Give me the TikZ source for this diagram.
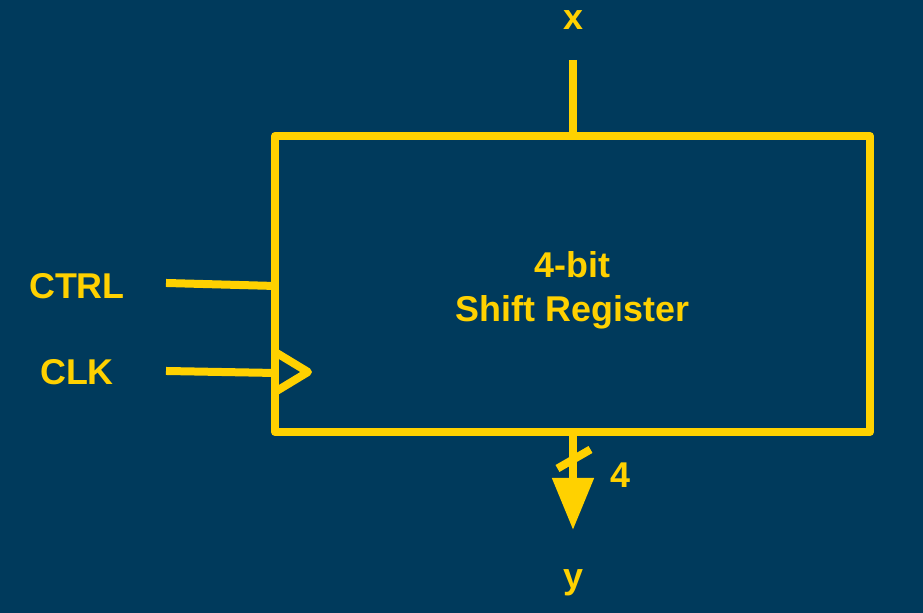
\documentclass[tikz,border=0pt]{standalone}
\usepackage{fontspec}
\setmainfont{Liberation Sans}
\usetikzlibrary{arrows.meta, positioning}
\definecolor{bgblue}{HTML}{003A5C}
\definecolor{sigyellow}{HTML}{FFD100}
\tikzset{>={Triangle[length=5.2mm, width=4mm]}}
\tikzset{
  wire/.style={sigyellow, line width=0.8mm},
  sig/.style={text=sigyellow, inner sep=0pt, font=\bfseries\fontsize{10.2}{12.6}\selectfont}
}

\begin{document}
\begin{tikzpicture}

% Background
\fill[bgblue] (0,0) rectangle (9.23,6.13);
\useasboundingbox (0,0) rectangle (9.23,6.13);

% Register block
\node[draw=sigyellow, line width=0.8mm, line join=round, minimum width=5.95cm, minimum height=2.96cm] (reg) at (5.725,3.29) {};
\node[sig, align=center] (title) at ([yshift=-0.06cm]reg.center) {4-bit\\Shift Register};

% Input x
\node[sig] (xlbl) at (5.73,5.93) {x};
\coordinate (xin) at (5.73,5.53);
\draw[wire] (xin) -- (xin |- reg.north);

% Control and clock inputs
\node[sig] (ctrl) at (0.77,3.27) {CTRL};
\coordinate (ctrlin) at (1.66,3.30);
\coordinate (ctrlend) at (2.75,3.27);
\draw[wire] (ctrlin) -- (ctrlend);

\node[sig] (clk) at (0.77,2.41) {CLK};
\coordinate (clkin) at (1.66,2.42);
\coordinate (clkend) at (2.75,2.40);
\draw[wire] (clkin) -- (clkend);
\draw[wire, line join=round] (2.75,2.61) -- (3.08,2.41) -- (2.75,2.21);

% Output y (4-bit bus)
\coordinate (yout) at (5.73,0.83);
\draw[wire, ->] (yout |- reg.south) -- (yout);
\coordinate (bus) at (5.735,1.545);
\draw[wire] ([shift={(-0.16,-0.1)}]bus) -- ([shift={(0.17,0.09)}]bus);
\node[sig] (width) at (6.20,1.38) {4};
\node[sig] (ylbl) at (5.73,0.30) {y};

\end{tikzpicture}
\end{document}
